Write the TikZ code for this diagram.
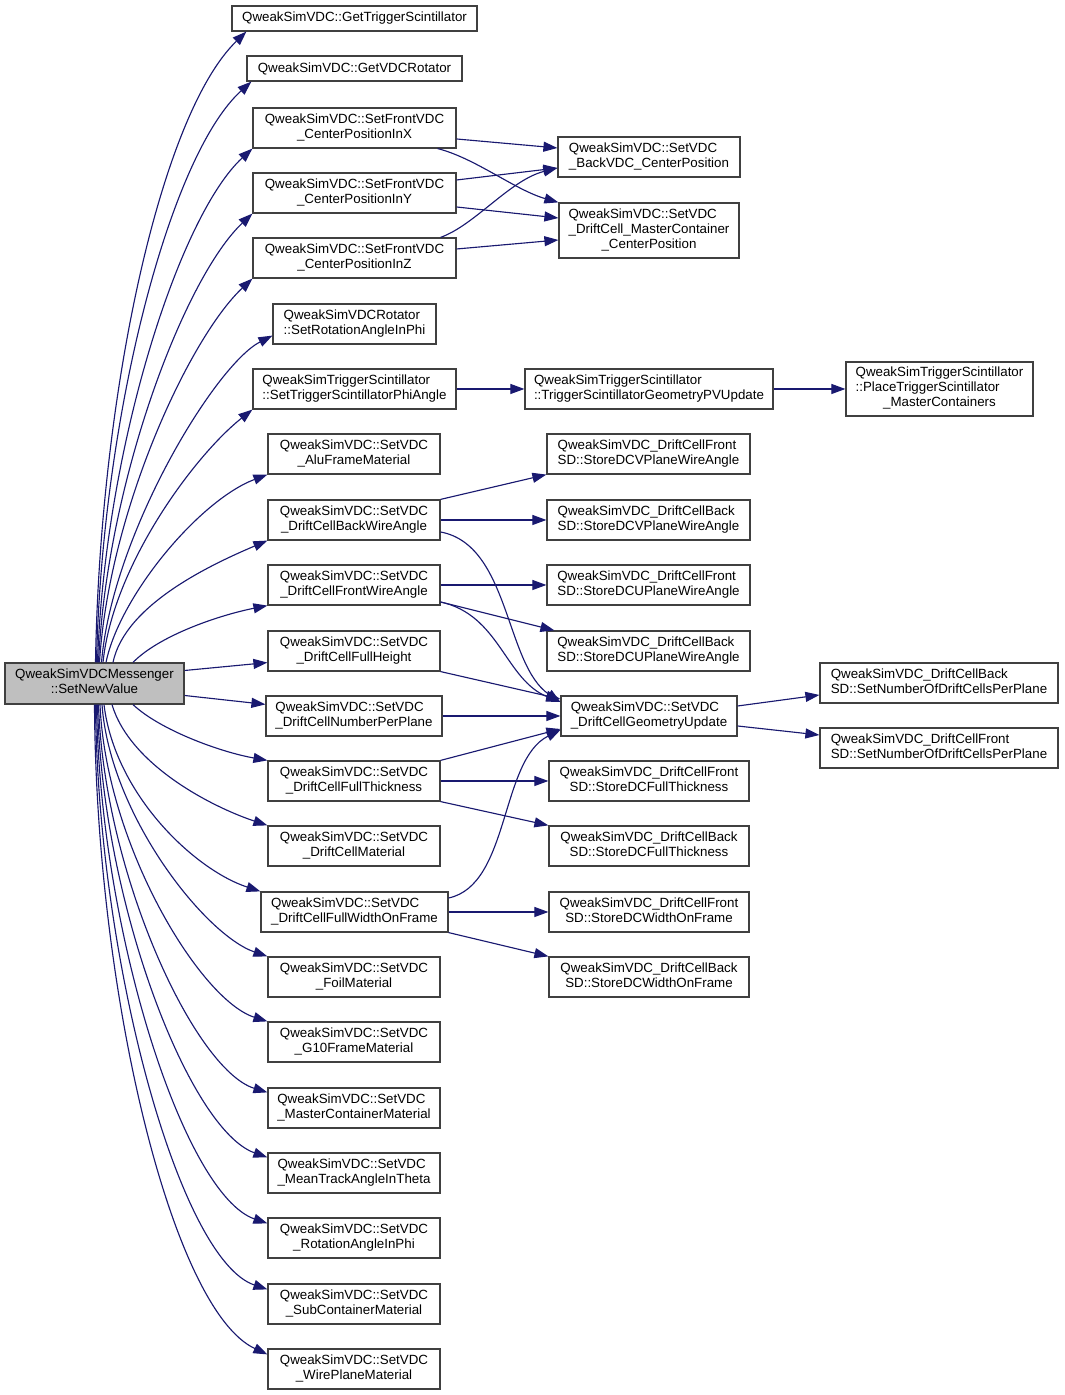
\documentclass[tikz,border=0pt]{standalone}
\usepackage{fontspec}
\usetikzlibrary{arrows.meta}
\newfontfamily\dxfont{Liberation Sans}
\definecolor{callblue}{HTML}{191970}
\definecolor{boxedge}{HTML}{404040}
\definecolor{rootfill}{HTML}{BFBFBF}
\newcommand{\fnlab}[2]{\begin{tabular}{@{}l@{}}#1\\\multicolumn{1}{@{}c@{}}{#2}\end{tabular}}

\begin{document}
\begin{tikzpicture}[x=0.75pt, y=0.75pt,
  fn/.style={draw=boxedge, line width=0.9pt, fill=white, inner sep=0pt, font=\dxfont\fontsize{10}{11.25}\selectfont},
  bw/.style={minimum width=#1*0.75pt},
  bh/.style={minimum height=#1*0.75pt},
  call/.style={draw=callblue, line width=0.85pt, -{Triangle[length=10.5pt, width=7.5pt]}}]
\useasboundingbox (0,0) rectangle (1064,1395);
%Caller
\node[fn, fill=rootfill, bw=179, bh=41] (msg) at (94.5,711.5) {\fnlab{QweakSimVDCMessenger}{::SetNewValue}};
%First column
\node[fn, bw=245, bh=25] (getTrig) at (354.5,1376.5) {QweakSimVDC::GetTriggerScintillator};
\node[fn, bw=215, bh=25] (getRot) at (354.5,1326.5) {QweakSimVDC::GetVDCRotator};
\node[fn, bw=203, bh=40] (frontX) at (354.5,1267) {\fnlab{QweakSimVDC::SetFrontVDC}{\_CenterPositionInX}};
\node[fn, bw=203, bh=40] (frontY) at (354.5,1202) {\fnlab{QweakSimVDC::SetFrontVDC}{\_CenterPositionInY}};
\node[fn, bw=203, bh=40] (frontZ) at (354.5,1137) {\fnlab{QweakSimVDC::SetFrontVDC}{\_CenterPositionInZ}};
\node[fn, bw=163, bh=40] (rotPhi) at (354.5,1071) {\fnlab{QweakSimVDCRotator}{::SetRotationAngleInPhi}};
\node[fn, bw=203, bh=40] (trigPhi) at (354.5,1006) {\fnlab{QweakSimTriggerScintillator}{::SetTriggerScintillatorPhiAngle}};
\node[fn, bw=172, bh=40] (alu) at (354,941) {\fnlab{QweakSimVDC::SetVDC}{\_AluFrameMaterial}};
\node[fn, bw=172, bh=40] (backWire) at (354,875) {\fnlab{QweakSimVDC::SetVDC}{\_DriftCellBackWireAngle}};
\node[fn, bw=172, bh=40] (frontWire) at (354,810) {\fnlab{QweakSimVDC::SetVDC}{\_DriftCellFrontWireAngle}};
\node[fn, bw=172, bh=40] (fullHeight) at (354,744) {\fnlab{QweakSimVDC::SetVDC}{\_DriftCellFullHeight}};
\node[fn, bw=176, bh=40] (numPlane) at (354,679) {\fnlab{QweakSimVDC::SetVDC}{\_DriftCellNumberPerPlane}};
\node[fn, bw=172, bh=40] (fullThick) at (354,614) {\fnlab{QweakSimVDC::SetVDC}{\_DriftCellFullThickness}};
\node[fn, bw=172, bh=40] (dcMat) at (354,549) {\fnlab{QweakSimVDC::SetVDC}{\_DriftCellMaterial}};
\node[fn, bw=187, bh=40] (fullWidth) at (354.5,483) {\fnlab{QweakSimVDC::SetVDC}{\_DriftCellFullWidthOnFrame}};
\node[fn, bw=172, bh=40] (foil) at (354,418) {\fnlab{QweakSimVDC::SetVDC}{\_FoilMaterial}};
\node[fn, bw=172, bh=40] (g10) at (354,353) {\fnlab{QweakSimVDC::SetVDC}{\_G10FrameMaterial}};
\node[fn, bw=172, bh=40] (masterMat) at (354,287) {\fnlab{QweakSimVDC::SetVDC}{\_MasterContainerMaterial}};
\node[fn, bw=172, bh=40] (meanTrack) at (354,222) {\fnlab{QweakSimVDC::SetVDC}{\_MeanTrackAngleInTheta}};
\node[fn, bw=172, bh=40] (rotAngle) at (354,157) {\fnlab{QweakSimVDC::SetVDC}{\_RotationAngleInPhi}};
\node[fn, bw=172, bh=40] (subCont) at (354,91) {\fnlab{QweakSimVDC::SetVDC}{\_SubContainerMaterial}};
\node[fn, bw=172, bh=40] (wirePlane) at (354,26) {\fnlab{QweakSimVDC::SetVDC}{\_WirePlaneMaterial}};
%Second column
\node[fn, bw=182, bh=40] (backPos) at (649,1238) {\fnlab{QweakSimVDC::SetVDC}{\_BackVDC\_CenterPosition}};
\node[fn, bw=180, bh=55] (mcPos) at (649,1164.5) {\fnlab{QweakSimVDC::SetVDC\\\_DriftCell\_MasterContainer}{\_CenterPosition}};
\node[fn, bw=248, bh=40] (trigGeom) at (649,1006) {\fnlab{QweakSimTriggerScintillator}{::TriggerScintillatorGeometryPVUpdate}};
\node[fn, bw=203, bh=40] (frontV) at (648.5,941) {\fnlab{QweakSimVDC\_DriftCellFront}{SD::StoreDCVPlaneWireAngle}};
\node[fn, bw=203, bh=40] (backV) at (648.5,875) {\fnlab{QweakSimVDC\_DriftCellBack}{SD::StoreDCVPlaneWireAngle}};
\node[fn, bw=203, bh=40] (frontU) at (648.5,810) {\fnlab{QweakSimVDC\_DriftCellFront}{SD::StoreDCUPlaneWireAngle}};
\node[fn, bw=203, bh=40] (backU) at (648.5,744) {\fnlab{QweakSimVDC\_DriftCellBack}{SD::StoreDCUPlaneWireAngle}};
\node[fn, bw=176, bh=40] (geomUpd) at (649,679) {\fnlab{QweakSimVDC::SetVDC}{\_DriftCellGeometryUpdate}};
\node[fn, bw=200, bh=40] (frontThick) at (649,614) {\fnlab{QweakSimVDC\_DriftCellFront}{SD::StoreDCFullThickness}};
\node[fn, bw=200, bh=40] (backThick) at (649,549) {\fnlab{QweakSimVDC\_DriftCellBack}{SD::StoreDCFullThickness}};
\node[fn, bw=200, bh=40] (frontWidth) at (649,483) {\fnlab{QweakSimVDC\_DriftCellFront}{SD::StoreDCWidthOnFrame}};
\node[fn, bw=200, bh=40] (backWidth) at (649,418) {\fnlab{QweakSimVDC\_DriftCellBack}{SD::StoreDCWidthOnFrame}};
%Third column
\node[fn, bw=187, bh=54] (placeTrig) at (939.5,1006) {\fnlab{QweakSimTriggerScintillator\\::PlaceTriggerScintillator}{\_MasterContainers}};
\node[fn, bw=238, bh=40] (backNum) at (939,712) {\fnlab{QweakSimVDC\_DriftCellBack}{SD::SetNumberOfDriftCellsPerPlane}};
\node[fn, bw=238, bh=40] (frontNum) at (939,647) {\fnlab{QweakSimVDC\_DriftCellFront}{SD::SetNumberOfDriftCellsPerPlane}};
%Calls going up
\draw[call] ([shift={(1,0)}]msg.north) .. controls (100,1000) and (160,1280) .. ([shift={(15,0)}]getTrig.south west);
\draw[call] ([shift={(2,0)}]msg.north) .. controls (102,980) and (170,1240) .. ([shift={(5,0)}]getRot.south west);
\draw[call] ([shift={(3,0)}]msg.north) .. controls (105,950) and (180,1180) .. (frontX.south west);
\draw[call] ([shift={(4,0)}]msg.north) .. controls (107,915) and (185,1118) .. (frontY.south west);
\draw[call] ([shift={(5,0)}]msg.north) .. controls (109,885) and (190,1058) .. (frontZ.south west);
\draw[call] ([shift={(7,0)}]msg.north) .. controls (112,860) and (215,1030) .. ([shift={(0,9)}]rotPhi.south west);
\draw[call] ([shift={(8.5,0)}]msg.north) .. controls (113,830) and (195,940) .. (trigPhi.south west);
\draw[call] ([shift={(11.5,0)}]msg.north) .. controls (120,800) and (200,895) .. (alu.south west);
\draw[call] ([shift={(18.5,0)}]msg.north) .. controls (125,790) and (210,830) .. (backWire.south west);
\draw[call] ([shift={(38.5,0)}]msg.north) .. controls (160,760) and (220,780) .. (frontWire.south west);
\draw[call] ([shift={(0,13)}]msg.east) -- ([shift={(0,9)}]fullHeight.south west);
\draw[call] ([shift={(0,-12)}]msg.east) -- ([shift={(0,-9)}]numPlane.north west);
%Calls going down
\draw[call] ([shift={(38.5,0)}]msg.south) .. controls (160,665) and (220,643) .. (fullThick.north west);
\draw[call] ([shift={(17.5,0)}]msg.south) .. controls (130,630) and (212,588) .. (dcMat.north west);
\draw[call] ([shift={(9.5,0)}]msg.south) .. controls (115,600) and (195,525) .. (fullWidth.north west);
\draw[call] ([shift={(7.5,0)}]msg.south) .. controls (110,580) and (205,460) .. (foil.north west);
\draw[call] ([shift={(5.5,0)}]msg.south) .. controls (106,550) and (200,395) .. (g10.north west);
\draw[call] ([shift={(4,0)}]msg.south) .. controls (104,520) and (195,325) .. ([shift={(0,-5)}]masterMat.north west);
\draw[call] ([shift={(3,0)}]msg.south) .. controls (102,490) and (190,265) .. ([shift={(0,-5)}]meanTrack.north west);
\draw[call] ([shift={(2,0)}]msg.south) .. controls (100,460) and (185,200) .. ([shift={(0,-6)}]rotAngle.north west);
\draw[call] ([shift={(1,0)}]msg.south) .. controls (98,430) and (180,135) .. ([shift={(0,-6)}]subCont.north west);
\draw[call] (msg.south) .. controls (96,400) and (172,85) .. ([shift={(0,-6)}]wirePlane.north west);
%Second level calls
\draw[call] ([shift={(0,-11)}]frontX.east) -- ([shift={(0,9)}]backPos.west);
\draw[call] ([shift={(-19,0)}]frontX.south east) .. controls (475,1237) and (515,1205) .. (mcPos.north west);
\draw[call] ([shift={(0,13)}]frontY.east) -- ([shift={(0,-11)}]backPos.west);
\draw[call] ([shift={(0,-14)}]frontY.east) -- ([shift={(0,12.5)}]mcPos.west);
\draw[call] ([shift={(-16,0)}]frontZ.north east) .. controls (475,1170) and (510,1215) .. ([shift={(0,-11)}]backPos.west);
\draw[call] ([shift={(0,9)}]frontZ.east) -- ([shift={(0,-9.5)}]mcPos.west);
\draw[call] (trigPhi) -- (trigGeom);
\draw[call] (trigGeom) -- (placeTrig);
\draw[call] (backWire.north east) -- (frontV.south west);
\draw[call] (backWire) -- (backV);
\draw[call] ([shift={(0,-12)}]backWire.east) .. controls (510,850) and (505,730) .. ([shift={(0,14)}]geomUpd.west);
\draw[call] (frontWire) -- (frontU);
\draw[call] ([shift={(0,-17)}]frontWire.east) -- ([shift={(8,0)}]backU.north west);
\draw[call] ([shift={(0,-17)}]frontWire.east) .. controls (500,780) and (505,715) .. ([shift={(0,14)}]geomUpd.west);
\draw[call] (fullHeight.south east) -- ([shift={(0,17)}]geomUpd.west);
\draw[call] (numPlane) -- (geomUpd);
\draw[call] (fullThick.north east) -- ([shift={(0,-13)}]geomUpd.west);
\draw[call] (fullThick) -- (frontThick);
\draw[call] (fullThick.south east) -- (backThick.north west);
\draw[call] ([shift={(0,14)}]fullWidth.east) .. controls (510,510) and (500,635) .. ([shift={(0,-14)}]geomUpd.west);
\draw[call] (fullWidth) -- (frontWidth);
\draw[call] (fullWidth.south east) -- (backWidth.north west);
\draw[call] ([shift={(0,10)}]geomUpd.east) -- ([shift={(0,-12)}]backNum.west);
\draw[call] ([shift={(0,-10)}]geomUpd.east) -- ([shift={(0,13)}]frontNum.west);
\end{tikzpicture}
\end{document}
